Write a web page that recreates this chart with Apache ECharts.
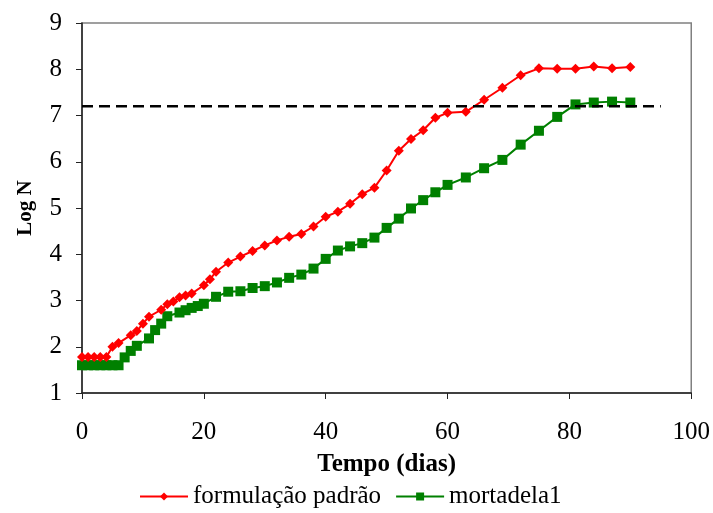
<!DOCTYPE html>
<html>
<head>
<meta charset="utf-8">
<script src="https://cdn.jsdelivr.net/npm/echarts@6/dist/echarts.min.js"></script>
<style>
  html, body { margin: 0; padding: 0; background: #fff; }
  #chart { width: 713px; height: 513px; }
</style>
</head>
<body>
<div id="chart"></div>
<script>
// dias de amostragem e Log N
const padraoDias = [0, 1, 2, 3, 4, 5, 6, 8, 9, 10, 11, 13, 14, 15, 16, 17, 18, 20, 21, 22, 24, 26, 28, 30, 32, 34, 36, 38, 40, 42, 44, 46, 48, 50, 52, 54, 56, 58, 60, 63, 66, 69, 72, 75, 78, 81, 84, 87, 90];
const padraoLogN = [1.78, 1.78, 1.78, 1.78, 1.78, 2.0, 2.08, 2.25, 2.34, 2.5, 2.65, 2.8, 2.92, 2.98, 3.07, 3.11, 3.15, 3.33, 3.46, 3.62, 3.82, 3.95, 4.07, 4.19, 4.3, 4.38, 4.44, 4.6, 4.81, 4.92, 5.09, 5.3, 5.44, 5.81, 6.24, 6.49, 6.68, 6.95, 7.06, 7.08, 7.34, 7.6, 7.87, 8.02, 8.01, 8.01, 8.06, 8.02, 8.05];

const mortDias = [0, 1, 2, 3, 4, 5, 6, 7, 8, 9, 11, 12, 13, 14, 16, 17, 18, 19, 20, 22, 24, 26, 28, 30, 32, 34, 36, 38, 40, 42, 44, 46, 48, 50, 52, 54, 56, 58, 60, 63, 66, 69, 72, 75, 78, 81, 84, 87, 90];
const mortLogN = [1.6, 1.6, 1.6, 1.6, 1.6, 1.6, 1.6, 1.77, 1.91, 2.02, 2.18, 2.36, 2.5, 2.66, 2.74, 2.79, 2.84, 2.88, 2.93, 3.08, 3.19, 3.2, 3.27, 3.31, 3.39, 3.49, 3.56, 3.69, 3.9, 4.08, 4.17, 4.24, 4.36, 4.57, 4.77, 4.99, 5.17, 5.34, 5.5, 5.66, 5.86, 6.04, 6.37, 6.67, 6.97, 7.24, 7.28, 7.3, 7.28];

// linha de referência tracejada
const limiteDias = [0, 95];
const limiteLogN = [7.2, 7.2];

const serif = '"Liberation Serif", "Times New Roman", serif';

function pares(xs, ys) {
  return xs.map((x, i) => [x, ys[i]]);
}

const chart = echarts.init(document.getElementById('chart'));

chart.setOption({
  animation: false,
  backgroundColor: '#fff',
  textStyle: { fontFamily: serif },
  grid: {
    left: 82, right: 21, top: 23, bottom: 120,
    show: true, borderColor: '#808080', borderWidth: 1.5,
  },
  legend: {
    bottom: -1,
    left: 134,
    itemWidth: 48,
    itemHeight: 10,
    itemGap: 14,
    data: ['formulação padrão', 'mortadela1'],
    textStyle: { fontFamily: serif, fontSize: 25, color: '#000' },
  },
  xAxis: {
    type: 'value',
    min: 0, max: 100, interval: 20,
    name: 'Tempo (dias)',
    nameLocation: 'middle',
    nameGap: 59,
    nameTextStyle: { fontFamily: serif, fontSize: 25, fontWeight: 'bold', color: '#000' },
    axisLine: { lineStyle: { color: '#222', width: 1.5 } },
    axisTick: { length: 6, lineStyle: { color: '#222' } },
    axisLabel: { margin: 27, fontFamily: serif, fontSize: 25, color: '#000' },
    splitLine: { show: false },
  },
  yAxis: {
    type: 'value',
    min: 1, max: 9, interval: 1,
    name: 'Log N',
    nameLocation: 'middle',
    nameGap: 46,
    nameRotate: 90,
    nameTextStyle: { fontFamily: serif, fontSize: 21, fontWeight: 'bold', color: '#000' },
    axisLine: { show: true, lineStyle: { color: '#222', width: 1.5 } },
    axisTick: { show: true, length: 6, lineStyle: { color: '#222' } },
    axisLabel: { margin: 20, fontFamily: serif, fontSize: 25, color: '#000' },
    splitLine: { show: false },
  },
  series: [
    {
      name: 'formulação padrão',
      type: 'line',
      data: pares(padraoDias, padraoLogN),
      symbol: 'diamond',
      symbolSize: 10,
      itemStyle: { color: '#ff0000' },
      lineStyle: { color: '#ff0000', width: 2 },
      z: 3,
    },
    {
      name: 'mortadela1',
      type: 'line',
      data: pares(mortDias, mortLogN),
      symbol: 'rect',
      symbolSize: 10,
      itemStyle: { color: '#008000' },
      lineStyle: { color: '#008000', width: 2 },
      z: 2,
    },
    {
      name: 'limite',
      type: 'line',
      data: pares(limiteDias, limiteLogN),
      symbol: 'none',
      lineStyle: { color: '#000', width: 2.5, type: [11, 6] },
      z: 4,
    },
  ],
});
</script>
</body>
</html>
